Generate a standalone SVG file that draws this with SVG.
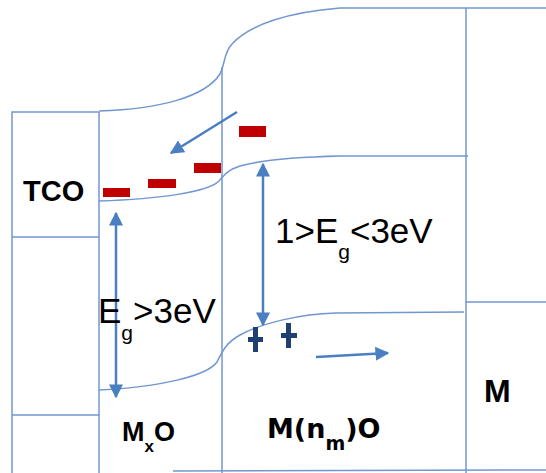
<svg xmlns="http://www.w3.org/2000/svg" width="546" height="473" viewBox="0 0 546 473">
<style>
.ln{fill:none;stroke:#7197d0;stroke-width:1.5}
.ar{fill:none;stroke:#4a7fc1;stroke-width:2.5}
.el{fill:#c00000}
.h{fill:#1f3f73}
.t{font-family:"Liberation Sans",Arial,sans-serif;fill:#000}
.b{font-weight:bold}
</style>
<defs>
<marker id="ah" viewBox="0 0 10 10" refX="9" refY="5" markerWidth="14" markerHeight="14" markerUnits="userSpaceOnUse" orient="auto-start-reverse">
<path d="M0,0 L10,5 L0,10 Z" fill="#4a7fc1"/>
</marker>
</defs>
<rect width="546" height="473" fill="#fff"/>
<g id="tco">
<path class="ln" d="M12,473 V112 H99 M12,237 H99 M12,415 H99"/>
<text class="t b" x="23" y="201" font-size="29">TCO</text>
</g>
<g id="mxo">
<path class="ln" d="M99,112 V473"/>
<text class="t b" x="122" y="441" font-size="27">M<tspan font-size="17" dy="11">x</tspan><tspan dy="-11">O</tspan></text>
</g>
<g id="mnmo">
<path class="ln" d="M222,67 V473"/>
<text x="267" y="438" font-size="27" font-family="'DejaVu Sans',sans-serif" font-weight="bold" fill="#000">M(n<tspan font-size="19" dy="12">m</tspan><tspan dy="-12">)O</tspan></text>
</g>
<g id="m">
<path class="ln" d="M466,8 V473 M466,302 H546 M466,8 H546 M173,471 L546,470"/>
<text class="t b" x="484" y="402" font-size="32">M</text>
</g>
<g id="bands">
<path class="ln" d="M99,111 C160,109 205,97 220,74 C226,62 223,54 232,44 C250,24 290,12 340,8 L466,8"/>
<path class="ln" d="M99,201 C160,199 208,192 219,181 C225,174 228,170 240,166 C262,160 295,157 340,156 L468,156"/>
<path class="ln" d="M99,390 C160,387 207,376 217,362 C223,350 226,343 240,335 C262,323 300,314 336,313 L464,312"/>
</g>
<g id="connectors">
<line class="ar" x1="116" y1="213" x2="116" y2="397" marker-start="url(#ah)" marker-end="url(#ah)"/>
<line class="ar" x1="263" y1="164" x2="263" y2="325" marker-start="url(#ah)" marker-end="url(#ah)"/>
<line class="ar" x1="237" y1="112" x2="171" y2="153" marker-end="url(#ah)"/>
<line class="ar" x1="316" y1="357" x2="388" y2="353" marker-end="url(#ah)"/>
</g>
<g id="electrons">
<rect class="el" x="103" y="188" width="27" height="9"/>
<rect class="el" x="148" y="179" width="28" height="9"/>
<rect class="el" x="194" y="163" width="27" height="10"/>
<rect class="el" x="239" y="126" width="27" height="11"/>
</g>
<g id="holes">
<rect class="h" x="253" y="327" width="5" height="25"/>
<rect class="h" x="248" y="337" width="15" height="5"/>
<rect class="h" x="286" y="323" width="5" height="25"/>
<rect class="h" x="281" y="333" width="16" height="5"/>
</g>
<g id="labels">
<text class="t" x="98" y="323" font-size="35">E<tspan font-size="21" dy="17">g</tspan><tspan dy="-17">&gt;3eV</tspan></text>
<text class="t" x="275" y="243" font-size="35">1&gt;E<tspan font-size="21" dy="16">g</tspan><tspan dy="-16">&lt;3eV</tspan></text>
</g>
</svg>
